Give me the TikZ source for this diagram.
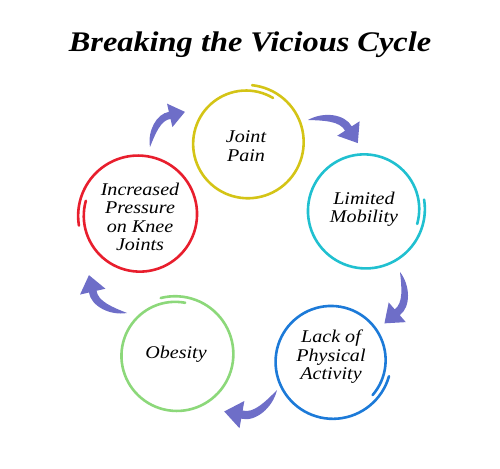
\documentclass[tikz,border=0pt]{standalone}
\usepackage{fontspec}
\setmainfont{Liberation Serif}
\newfontfamily\lblfont[FakeStretch=1.12]{Liberation Serif}
\newfontfamily\ttlfont[FakeStretch=1.14]{Liberation Serif}
\usetikzlibrary{calc}
\definecolor{cyel}{RGB}{212,196,22}
\definecolor{ccya}{RGB}{32,192,208}
\definecolor{cblu}{RGB}{28,122,216}
\definecolor{cgrn}{RGB}{140,216,122}
\definecolor{cred}{RGB}{232,30,45}
\definecolor{cpur}{RGB}{110,110,200}
\newcommand\hcircle[5]{%
  \draw[#5, line width=2.6bp, line cap=round] plot[domain=0:385, samples=90, smooth]
    ({#1+(#3-3+6*\x/385)*cos(\x+#4)}, {#2+(#3-3+6*\x/385)*sin(\x+#4)});}
\tikzset{
  lbl/.style={font=\lblfont\itshape\fontsize{18}{18.5}\selectfont, align=center, inner sep=0pt},
  ttl/.style={font=\ttlfont\bfseries\itshape\fontsize{28.5}{30}\selectfont, inner sep=0pt},
  cycarrow/.pic={
    \fill[cpur] (0,0) .. controls (12,6) and (28,3) .. (32.6,-6.5)
      -- (38.7,-3) -- (36.5,-19.3) -- (21.3,-13) -- (27.4,-9.5)
      .. controls (24,-2) and (12,-1) .. (0,0) -- cycle;
  }
}
\begin{document}
\begin{tikzpicture}[x=1bp,y=1bp]
\useasboundingbox (0,0) rectangle (500,469);
\node[ttl] (title) at (250,424) {Breaking the Vicious Cycle};
% circles
\coordinate (cjp) at (247,326);
\coordinate (clm) at (365,259);
\coordinate (cla) at (332,108);
\coordinate (cob) at (176,114);
\coordinate (cip) at (139,254);
\hcircle{247}{326}{55}{60}{cyel}
\hcircle{365}{259}{57}{-15}{ccya}
\hcircle{332}{108}{56}{-40}{cblu}
\hcircle{176}{114}{56}{80}{cgrn}
\hcircle{139}{254}{58}{165}{cred}
% labels
\node[lbl] (jp) at (246,323) {Joint\\Pain};
\node[lbl] (lm) at (364,260) {Limited\\Mobility};
\node[lbl] (la) at (331,112) {Lack of\\Physical\\Activity};
\node[lbl] (ob) at (176,115) {Obesity};
\node[lbl] (ip) at (140,252) {Increased\\Pressure\\on Knee\\Joints};
% arrows
\pic[scale=1.33, rotate=3] at (308,349) {cycarrow};
\pic[scale=1.3, rotate=-79] at (400,197) {cycarrow};
\pic[scale=1.38, rotate=-130] at (277,79) {cycarrow};
\pic[scale=1.3, rotate=163] at (127,156) {cycarrow};
\pic[scale=1.2, rotate=73] at (150,322) {cycarrow};
\end{tikzpicture}
\end{document}
